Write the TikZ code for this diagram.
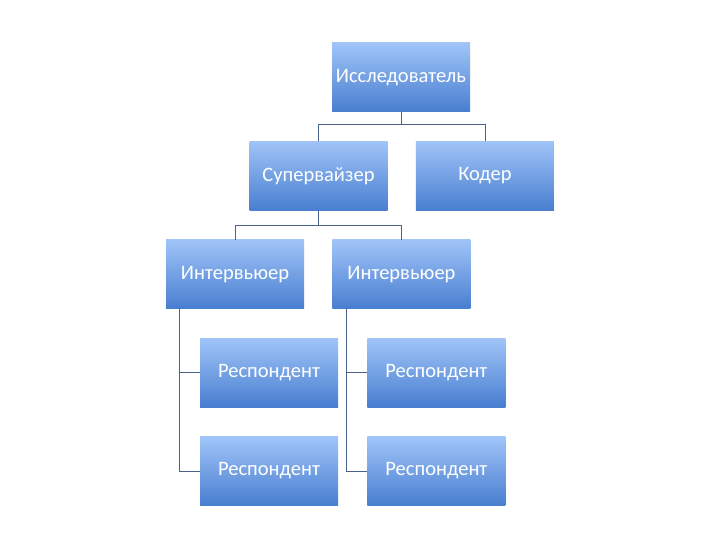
\documentclass[tikz,border=0pt]{standalone}
\usepackage{fontspec}
\setmainfont{Carlito}
\usepackage{tikz}
\usetikzlibrary{positioning}

\definecolor{boxtop}{RGB}{160,196,248}
\definecolor{boxbot}{RGB}{72,126,208}
\definecolor{linkblue}{RGB}{72,98,140}

\tikzset{
  orgbox/.style={rectangle, minimum width=138pt, minimum height=69pt, inner sep=0pt,
    top color=boxtop, bottom color=boxbot, text=white, font=\fontsize{20.5}{24}\selectfont},
  orglink/.style={draw=linkblue, line width=0.7pt}
}

\begin{document}
\begin{tikzpicture}[x=1pt, y=1pt]
  \useasboundingbox (0,0) rectangle (720,540);
  \node[orgbox] (res) at (401,462.5) {Исследователь};
  \node[orgbox, below=29pt of res, xshift=-82.5pt] (sup) {Супервайзер};
  \node[orgbox, right=28pt of sup] (kod) {Кодер};
  \node[orgbox, below=29pt of sup, xshift=-83.5pt] (int1) {Интервьюер};
  \node[orgbox, right=28pt of int1] (int2) {Интервьюер};
  \node[orgbox, below=29pt of int1, xshift=34pt] (resp1) {Респондент};
  \node[orgbox, right=29pt of resp1] (resp2) {Респондент};
  \node[orgbox, below=29pt of resp1] (resp3) {Респондент};
  \node[orgbox, below=29pt of resp2] (resp4) {Респондент};
  % top level links
  \draw[orglink] (res.south) -- ++(0,-12.5) -| (sup.north);
  \draw[orglink] (res.south) -- ++(0,-12.5) -| (kod.north);
  % supervisor to interviewers
  \draw[orglink] (sup.south) -- ++(0,-14.5) -| (int1.north);
  \draw[orglink] (sup.south) -- ++(0,-14.5) -| (int2.north);
  % interviewers to respondents
  \draw[orglink] ([xshift=14pt]int1.south west) |- (resp1.west);
  \draw[orglink] ([xshift=14pt]int1.south west) |- (resp3.west);
  \draw[orglink] ([xshift=14pt]int2.south west) |- (resp2.west);
  \draw[orglink] ([xshift=14pt]int2.south west) |- (resp4.west);
\end{tikzpicture}
\end{document}
